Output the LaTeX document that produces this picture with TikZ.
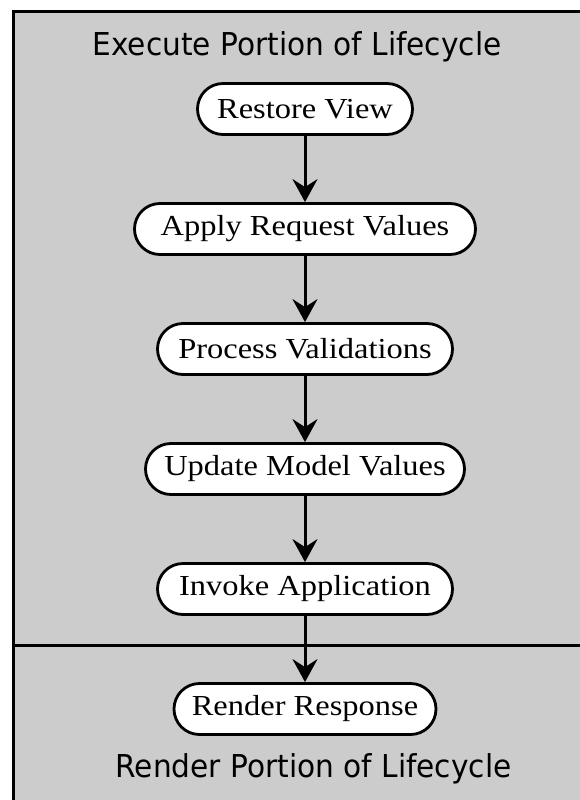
\documentclass[tikz,border=0pt]{standalone}
\usepackage{fontspec}
\setmainfont{Liberation Serif}
\newfontfamily\titlefont{DejaVu Sans}
\usetikzlibrary{arrows.meta}
\definecolor{panelgray}{HTML}{CCCCCC}
\newcommand{\nodetext}[1]{\scalebox{1.12}[1]{#1}}
\newcommand{\titletext}[1]{\scalebox{0.94}[1]{#1}}
\tikzset{
  phase/.style={draw=black, line width=2.8pt, fill=white, rounded corners=25.5pt,
    minimum height=51pt, inner sep=0pt, font=\fontsize{29}{32}\selectfont},
  flow/.style={line width=3pt, -{Stealth[length=23pt,width=25pt,inset=8pt]}},
  title/.style={anchor=base, inner sep=0pt, font=\titlefont\fontsize{31.5}{36}\selectfont},
  frame/.style={line width=3pt}
}
\begin{document}
\begin{tikzpicture}[x=1pt,y=-1pt]
\useasboundingbox (0,0) rectangle (579,800);
\fill[panelgray] (13,12) rectangle (585,805);
\draw[frame] (13,805) -- (13,12) -- (585,12);
\draw[frame] (13,645.5) -- (585,645.5);
\node[title] (t1) at (297,56) {\titletext{Execute Portion of Lifecycle}};
\node[title] (t2) at (313.5,777) {\titletext{Render Portion of Lifecycle}};
\node[phase, minimum width=215pt] (rv) at (305,109) {\nodetext{Restore View}};
\node[phase, minimum width=341pt] (ar) at (305,229) {\nodetext{Apply Request Values}};
\node[phase, minimum width=295pt] (pv) at (305,349) {\nodetext{Process Validations}};
\node[phase, minimum width=319pt] (um) at (305,469) {\nodetext{Update Model Values}};
\node[phase, minimum width=295pt] (ia) at (305,589) {\nodetext{Invoke Application}};
\node[phase, minimum width=262pt] (rr) at (305,709) {\nodetext{Render Response}};
\draw[flow] (rv) -- (ar);
\draw[flow] (ar) -- (pv);
\draw[flow] (pv) -- (um);
\draw[flow] (um) -- (ia);
\draw[flow] (ia) -- (rr);
\end{tikzpicture}
\end{document}
